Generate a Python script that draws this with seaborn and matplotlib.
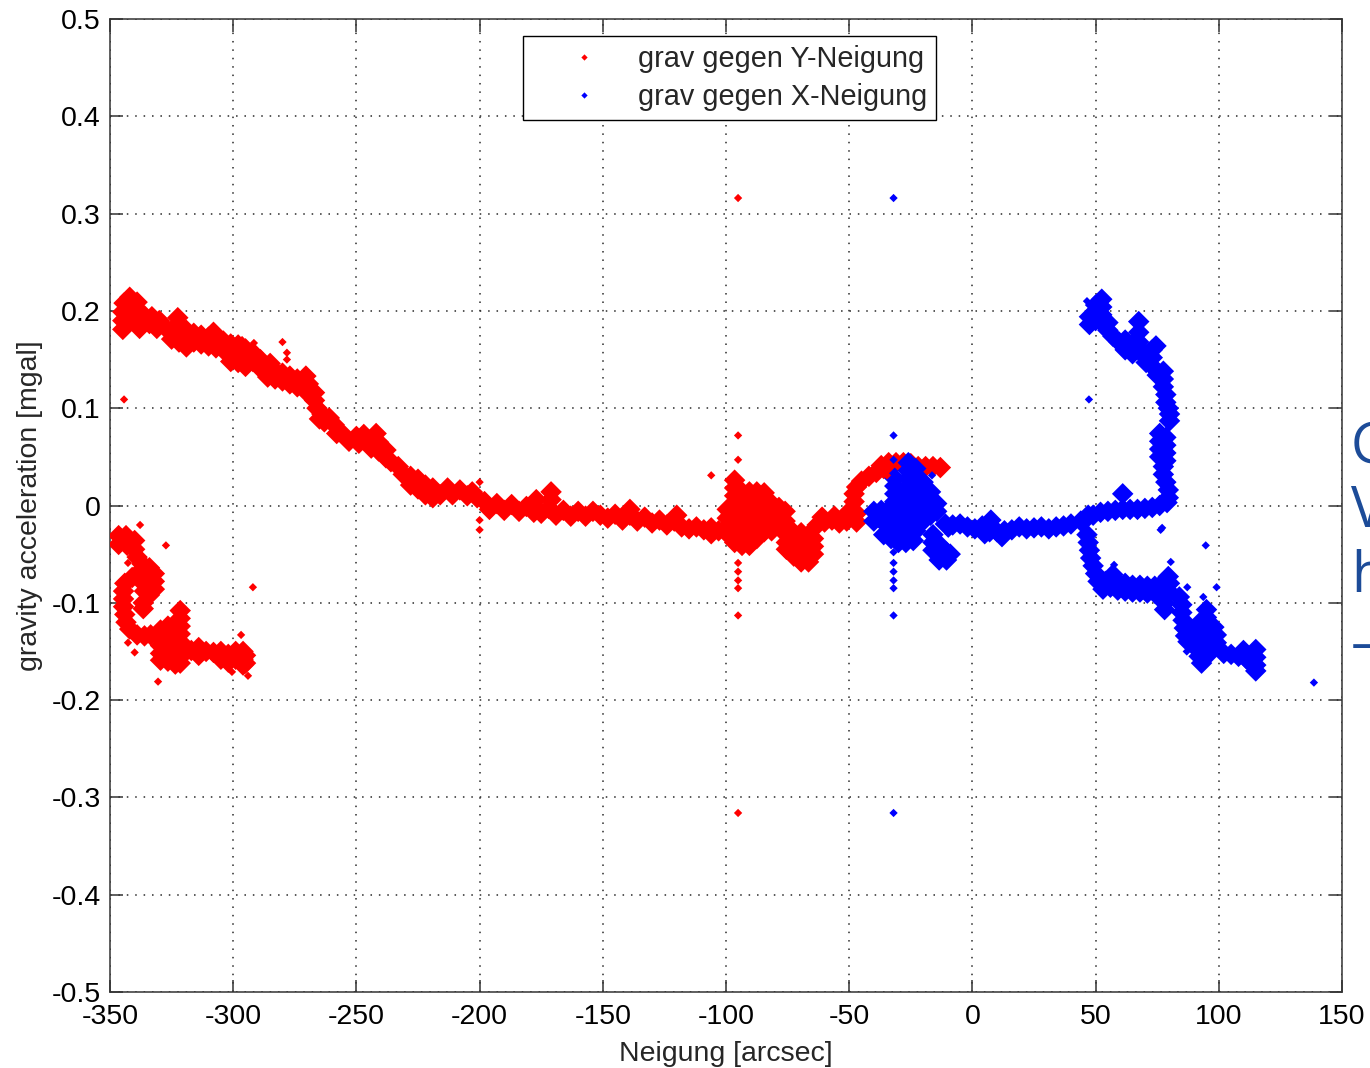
import numpy as np
import pandas as pd
import matplotlib
matplotlib.use("Agg")
import matplotlib.pyplot as plt
from matplotlib.lines import Line2D
import seaborn as sns

# Samples as (tilt [arcsec], gravity acceleration [mgal])

# Y-tilt series: sloping band from upper left towards the centre
y_band_upper = [
    (-344.8, 0.181), (-344.8, 0.190), (-344.8, 0.199), (-344.3, 0.208), (-342, 0.214),
    (-341, 0.206), (-342.3, 0.197), (-342.5, 0.188), (-339, 0.209), (-338.5, 0.200),
    (-339.5, 0.191), (-338, 0.182), (-336, 0.195),
    (-334, 0.187), (-333, 0.194), (-331, 0.182), (-330, 0.190), (-328, 0.184),
    (-325, 0.180), (-325, 0.171), (-322, 0.186), (-322, 0.177), (-322, 0.168), (-322.5, 0.193),
    (-319, 0.180), (-319, 0.171), (-319, 0.163), (-316, 0.177), (-316, 0.168), (-313, 0.175),
    (-313, 0.166), (-310, 0.173), (-310, 0.164), (-307, 0.171), (-307, 0.162), (-304, 0.169),
    (-304, 0.160), (-308, 0.178),
    (-301, 0.166), (-301, 0.157), (-301, 0.148), (-298, 0.165), (-298, 0.156), (-298, 0.147),
    (-295, 0.161), (-295, 0.152), (-295, 0.143), (-292, 0.157), (-292, 0.148), (-289, 0.150),
    (-289, 0.141),
    (-286, 0.140), (-286, 0.132), (-283, 0.138), (-283, 0.130), (-280, 0.136), (-280, 0.128),
    (-277, 0.133), (-277, 0.125), (-274, 0.130), (-274, 0.122), (-285, 0.146),
    (-270.5, 0.133), (-269.5, 0.125), (-270, 0.116), (-267, 0.116), (-267, 0.108),
    (-266, 0.100), (-264, 0.094), (-263, 0.086), (-261, 0.090), (-259, 0.083), (-265, 0.089),
    (-258, 0.074), (-255, 0.072), (-253, 0.066), (-250, 0.071), (-249, 0.064),
    (-247, 0.073), (-244, 0.067), (-244, 0.059), (-241, 0.065), (-241, 0.056), (-238, 0.057),
    (-238, 0.049), (-236, 0.045), (-242, 0.074),
    (-233, 0.040), (-231, 0.032), (-228, 0.030), (-228, 0.021), (-225, 0.027), (-225, 0.017),
    (-222, 0.021), (-222, 0.011), (-219, 0.018), (-219, 0.008), (-216, 0.011),
]

y_band_middle = [
    (-213, 0.018), (-211, 0.011), (-208, 0.016), (-205, 0.010), (-203, 0.014), (-201, 0.008),
    (-198, 0.004), (-196, -0.004), (-193, 0.002), (-190, -0.005), (-187, 0.001), (-184, -0.006),
    (-181, -0.001), (-178, -0.007), (-177, 0.006), (-171, 0.014), (-171, 0.006),
    (-175, -0.008), (-172, -0.003), (-169, -0.010), (-166, -0.005), (-163, -0.011),
    (-160, -0.006), (-157, -0.011), (-154, -0.006), (-151, -0.010),
    (-148, -0.013), (-145, -0.009), (-142, -0.015), (-139, -0.010), (-136, -0.016),
    (-133, -0.012), (-130, -0.018), (-127, -0.015), (-124, -0.020), (-121, -0.016),
    (-139, -0.004), (-120, -0.010),
    (-118, -0.022), (-115, -0.024), (-112, -0.022), (-109, -0.025), (-106, -0.023),
    (-103, -0.026), (-106, -0.029),
]

# Y-tilt series: dense groups between -100 and -10 arcsec
y_centre_groups = [
    (-99.5, -0.004), (-99.5, -0.013), (-99.5, -0.022), (-99.5, -0.029),
    (-96.5, 0.026), (-96.5, 0.018), (-96.5, 0.010), (-96.5, 0.002), (-96.5, -0.006),
    (-96.5, -0.014), (-96.5, -0.022), (-96.5, -0.030), (-96.5, -0.038),
    (-93.5, 0.014), (-93.5, 0.006), (-93.5, -0.002), (-93.5, -0.010), (-93.5, -0.018),
    (-93.5, -0.026), (-93.5, -0.034), (-93.5, -0.041),
    (-90.5, 0.014), (-90.5, 0.006), (-90.5, -0.002), (-90.5, -0.010), (-90.5, -0.018),
    (-90.5, -0.026), (-90.5, -0.034), (-90.5, -0.041),
    (-87.5, 0.014), (-87.5, 0.006), (-87.5, -0.002), (-87.5, -0.010), (-87.5, -0.018),
    (-87.5, -0.026), (-87.5, -0.034),
    (-84.5, 0.013), (-84.5, 0.005), (-84.5, -0.003), (-84.5, -0.011), (-84.5, -0.019),
    (-84.5, -0.027),
    (-81.5, 0.002), (-81.5, -0.008), (-81.5, -0.018), (-81.5, -0.026),
    (-78.5, -0.002), (-78.5, -0.012), (-78.5, -0.020),
    (-76, -0.006), (-76, -0.016),
    (-75.5, -0.030), (-75.5, -0.038), (-75.5, -0.045),
    (-72.5, -0.028), (-72.5, -0.036), (-72.5, -0.044), (-72.5, -0.052),
    (-69.5, -0.028), (-69.5, -0.036), (-69.5, -0.044), (-69.5, -0.052), (-69.5, -0.058),
    (-66.5, -0.030), (-66.5, -0.038), (-66.5, -0.046), (-66.5, -0.054), (-66.5, -0.058),
    (-64.5, -0.034), (-64.5, -0.042), (-64.5, -0.050),
    (-63, -0.020), (-60, -0.017), (-57, -0.015), (-54, -0.018), (-61, -0.012), (-56, -0.011),
    (-51, -0.016), (-50, -0.006), (-47, -0.008), (-47, -0.017),
    (-48, 0.004), (-48, 0.012), (-47, 0.019), (-45, 0.025), (-42, 0.030), (-39, 0.034),
    (-36, 0.038),
    (-37, 0.041), (-34, 0.044), (-31, 0.044), (-28, 0.044), (-25, 0.043), (-22, 0.040),
    (-19, 0.040), (-16, 0.040), (-13, 0.039),
]

# Y-tilt series: lower left group
y_lower_left = [
    (-346.5, -0.031), (-343.5, -0.031), (-346.5, -0.040), (-343, -0.041), (-340, -0.036),
    (-340, -0.045), (-339, -0.053), (-337, -0.060), (-334, -0.064), (-332, -0.070),
    (-332, -0.078), (-332, -0.086), (-334, -0.092), (-335, -0.072), (-335, -0.080),
    (-338, -0.068), (-338, -0.076), (-341, -0.074), (-344, -0.080), (-336, -0.088),
    (-344.5, -0.088), (-344.5, -0.096), (-344.5, -0.104), (-344, -0.112), (-343.5, -0.120),
    (-342, -0.127),
    (-336.5, -0.100), (-336.5, -0.106),
    (-339, -0.133), (-336, -0.134), (-333.5, -0.133),
    (-329.5, -0.128), (-329.5, -0.136), (-329.5, -0.144), (-329.5, -0.152), (-329.5, -0.159),
    (-326.5, -0.124), (-326.5, -0.132), (-326.5, -0.140), (-326.5, -0.148), (-326.5, -0.156),
    (-326.5, -0.160),
    (-323.5, -0.126), (-323.5, -0.134), (-323.5, -0.142), (-323.5, -0.150), (-323.5, -0.158),
    (-323.5, -0.163),
    (-321.5, -0.108), (-321.5, -0.116), (-321.5, -0.124), (-321.5, -0.132), (-321.5, -0.140),
    (-321.5, -0.148), (-321.5, -0.156), (-321.5, -0.162),
    (-317, -0.149), (-314, -0.146), (-314, -0.154), (-311, -0.150), (-308, -0.151),
    (-305, -0.150), (-305, -0.158), (-302, -0.153), (-302, -0.161), (-299, -0.150),
    (-299, -0.158), (-296, -0.150), (-296, -0.158), (-296, -0.164), (-295, -0.154),
    (-295, -0.162),
]

# Y-tilt series: isolated samples
y_isolated = [
    (-344.3, 0.109), (-280, 0.168), (-278.2, 0.157), (-278.2, 0.150), (-296.4, 0.170),
    (-291.6, 0.167), (-200, 0.024), (-200, -0.015), (-200, -0.025), (-106, 0.031),
    (-95.1, 0.316), (-95.1, 0.072), (-95.1, 0.047), (-95.1, -0.059), (-95.1, -0.068),
    (-95.1, -0.077), (-95.1, -0.085), (-95.1, -0.113), (-95.1, -0.316), (-34.7, 0.031),
    (-337.8, -0.020), (-327.3, -0.041), (-292, -0.084), (-342.7, -0.059), (-342.7, -0.141),
    (-340, -0.151), (-330.5, -0.181), (-296.8, -0.133), (-300.5, -0.171), (-294, -0.175),
]

# X-tilt series: group near -30 arcsec and the flat run towards +45
x_core = [
    (-40, -0.006), (-40, -0.016), (-37, -0.005), (-37, -0.015), (-34, -0.004), (-34, -0.014),
    (-34, -0.022),
    (-36, -0.030), (-33, -0.034), (-30, -0.038), (-27, -0.038), (-24, -0.036),
    (-31.5, 0.028), (-31.5, 0.020), (-31.5, 0.012), (-31.5, 0.004), (-31.5, -0.004),
    (-31.5, -0.012), (-31.5, -0.020), (-31.5, -0.028),
    (-29, 0.010), (-29, 0.002), (-29, -0.006), (-29, -0.014), (-29, -0.022), (-29, -0.030),
    (-26, 0.044), (-26, 0.036), (-26, 0.028), (-26, 0.020), (-26, 0.012), (-26, 0.004),
    (-26, -0.004), (-26, -0.012), (-26, -0.020), (-26, -0.028),
    (-23, 0.038), (-23, 0.030), (-23, 0.022), (-23, 0.014), (-23, 0.006), (-23, -0.002),
    (-23, -0.010), (-23, -0.018), (-23, -0.026),
    (-20, 0.024), (-20, 0.016), (-20, 0.008), (-20, 0.000), (-20, -0.008), (-20, -0.016),
    (-17, 0.014), (-17, 0.006), (-17, -0.002), (-17, -0.010),
    (-14.5, 0.002), (-14.5, -0.006),
    (-16, -0.030), (-16, -0.038), (-16, -0.046), (-13.5, -0.040), (-13.5, -0.048),
    (-13.5, -0.056), (-10.5, -0.048), (-10.5, -0.056), (-9, -0.050),
    (-11, -0.019), (-8, -0.020), (-5, -0.019), (-2, -0.022), (1, -0.024), (4, -0.021),
    (7.5, -0.015), (7, -0.027), (10, -0.027), (13, -0.026), (16, -0.025), (19, -0.022),
    (22, -0.024), (25, -0.023), (28, -0.022), (31, -0.024), (34, -0.022), (37, -0.021),
    (40, -0.019), (12, -0.032), (5, -0.029),
]

# X-tilt series: upper arm between +45 and +82 arcsec
x_upper_arm = [
    (47.5, 0.194), (47.5, 0.186), (50, 0.206), (50, 0.198), (50, 0.190), (52.5, 0.212),
    (52.5, 0.204), (52.5, 0.196), (52.5, 0.188), (55, 0.188), (55, 0.180), (57, 0.174),
    (59.5, 0.168), (62, 0.170), (62, 0.160), (65, 0.166), (65, 0.156), (67.5, 0.189),
    (67.5, 0.178), (67.5, 0.168), (68, 0.158),
    (70.5, 0.155), (70.5, 0.147), (73, 0.160), (73, 0.152), (73, 0.143), (74.5, 0.164),
    (75, 0.134), (77.5, 0.138), (77.5, 0.130), (77.5, 0.122), (78.5, 0.114), (78.5, 0.106),
    (79.5, 0.100), (80, 0.094), (80, 0.087),
    (76, 0.074), (76, 0.066), (76, 0.058), (76, 0.050), (78.5, 0.070), (78.5, 0.062),
    (78.5, 0.054), (78.5, 0.046),
    (77.5, 0.040), (77.5, 0.032), (78.5, 0.024), (79.5, 0.016), (79.5, 0.008),
    (46, -0.014), (49, -0.010), (52, -0.007), (55, -0.006), (58, -0.005), (61, -0.004),
    (61, 0.012), (64, -0.004), (67, -0.004), (70, -0.003), (73, -0.002), (76, 0.000),
    (79, 0.003),
]

# X-tilt series: lower arm between +44 and +118 arcsec
x_lower_arm = [
    (44, -0.016), (47, -0.010),
    (46.5, -0.030), (47, -0.038), (47.5, -0.046), (48, -0.054), (49, -0.062), (50, -0.070),
    (51, -0.078),
    (53, -0.086), (54, -0.078), (56, -0.084), (59, -0.079), (59, -0.087), (62, -0.080),
    (62, -0.088), (65, -0.082), (65, -0.089), (68, -0.082), (68, -0.089), (71, -0.083),
    (71, -0.090), (74, -0.083), (74, -0.090), (77, -0.080), (77, -0.088), (80, -0.080),
    (80, -0.089), (57, -0.071), (79.5, -0.073),
    (78, -0.100), (78, -0.107),
    (84, -0.094), (85, -0.102), (85, -0.110), (85.5, -0.118), (86, -0.126), (86.5, -0.134),
    (87.5, -0.140),
    (95, -0.107), (95, -0.115), (92, -0.121), (95, -0.123), (98, -0.125), (90.5, -0.131),
    (93.5, -0.131), (96.5, -0.131), (99, -0.133), (91, -0.139), (94, -0.139), (97, -0.139),
    (99, -0.141), (91, -0.147), (94, -0.147), (97, -0.147), (92, -0.155), (95, -0.155),
    (93, -0.162),
    (102, -0.152), (105, -0.153), (108, -0.155), (111, -0.157), (113, -0.162), (110, -0.149),
    (115, -0.148), (115, -0.156), (115, -0.164), (115, -0.170),
]

# X-tilt series: isolated samples
x_isolated = [
    (-32, 0.316), (-32, 0.072), (-32, 0.047), (-32, -0.048), (-32, -0.059), (-32, -0.068),
    (-32, -0.077), (-32, -0.085), (-32, -0.113), (-32, -0.316), (-16.4, 0.031),
    (-9.8, -0.029), (46.5, 0.210), (47.3, 0.109), (77, -0.023), (57.5, -0.061),
    (80.5, -0.058), (94.7, -0.041), (99.1, -0.084), (87.2, -0.084), (93.7, -0.094),
    (76.4, -0.025), (87, -0.150), (138.6, -0.182),
]

series_names = ["grav gegen Y-Neigung", "grav gegen X-Neigung"]
series_colors = ["#ff0000", "#0000ff"]

x_ticks = [-350, -300, -250, -200, -150, -100, -50, 0, 50, 100, 150]
x_tick_labels = ["-350", "-300", "-250", "-200", "-150", "-100", "-50", "0", "50", "100", "150"]
y_ticks = [-0.5, -0.4, -0.3, -0.2, -0.1, 0.0, 0.1, 0.2, 0.3, 0.4, 0.5]
y_tick_labels = ["-0.5", "-0.4", "-0.3", "-0.2", "-0.1", "0", "0.1", "0.2", "0.3", "0.4", "0.5"]

side_note = ["G", "V", "h", "\u2013"]


def to_frame(points, series):
    arr = np.asarray(points, dtype=float)
    return pd.DataFrame({"tilt": arr[:, 0], "grav": arr[:, 1], "series": series})


dense = pd.concat([
    to_frame(y_band_upper, series_names[0]),
    to_frame(y_band_middle, series_names[0]),
    to_frame(y_centre_groups, series_names[0]),
    to_frame(y_lower_left, series_names[0]),
    to_frame(x_core, series_names[1]),
    to_frame(x_upper_arm, series_names[1]),
    to_frame(x_lower_arm, series_names[1]),
], ignore_index=True)

sparse = pd.concat([
    to_frame(y_isolated, series_names[0]),
    to_frame(x_isolated, series_names[1]),
], ignore_index=True)

palette = dict(zip(series_names, series_colors))

sns.set_style("ticks")
plt.rcParams["font.family"] = ["Liberation Sans", "DejaVu Sans"]

W, H = 1370, 1068
fig = plt.figure(figsize=(W / 100, H / 100), dpi=100)
ax = fig.add_axes([110 / W, 1 - 992 / H, 1232 / W, 973 / H])

sns.scatterplot(data=dense, x="tilt", y="grav", hue="series", palette=palette,
                hue_order=series_names, marker="D", s=120, linewidth=0,
                legend=False, ax=ax, zorder=3)
sns.scatterplot(data=sparse, x="tilt", y="grav", hue="series", palette=palette,
                hue_order=series_names, marker="D", s=18, linewidth=0,
                legend=False, ax=ax, zorder=3)

ax.set_xlim(-350, 150)
ax.set_ylim(-0.5, 0.5)
ax.set_xticks(x_ticks)
ax.set_xticklabels(x_tick_labels)
ax.set_yticks(y_ticks)
ax.set_yticklabels(y_tick_labels)

ax.set_axisbelow(True)
ax.grid(True, linestyle=(0, (1, 4.5)), color="#2a2a2a", linewidth=1.1)

for sp in ax.spines.values():
    sp.set_visible(True)
    sp.set_color("#333333")
    sp.set_linewidth(1.1)

ax.tick_params(axis="both", which="both", direction="in", length=9, width=1.1,
               color="#333333", top=True, right=True, labelsize=20.5, labelcolor="black")
ax.tick_params(axis="x", pad=9)
ax.tick_params(axis="y", pad=6.5)

ax.set_xlabel("Neigung [arcsec]", fontsize=20.5, labelpad=7.5)
ax.set_ylabel("gravity acceleration [mgal]", fontsize=20.5, labelpad=6.5)

handles = [Line2D([], [], linestyle="none", marker="D", markersize=3.2,
                  markerfacecolor=c, markeredgewidth=0) for c in series_colors]
leg = ax.legend(handles, series_names, loc="upper left",
                bbox_to_anchor=(413 / 1232, (992 - 36) / 973), borderaxespad=0,
                frameon=True, fancybox=False, shadow=False, framealpha=1,
                edgecolor="black", fontsize=20.8, handlelength=3.65,
                handletextpad=0.02, borderpad=0.3, labelspacing=0.36)
leg.get_frame().set_linewidth(1.0)

baselines = [463, 527, 592, 661]
for line, base in zip(side_note, baselines):
    fig.text(1351 / W, 1 - base / H, line, fontsize=40, color="#1c4b98",
             family=["Open Sans", "DejaVu Sans"], ha="left", va="baseline")

fig.savefig("out.png", dpi=100)
